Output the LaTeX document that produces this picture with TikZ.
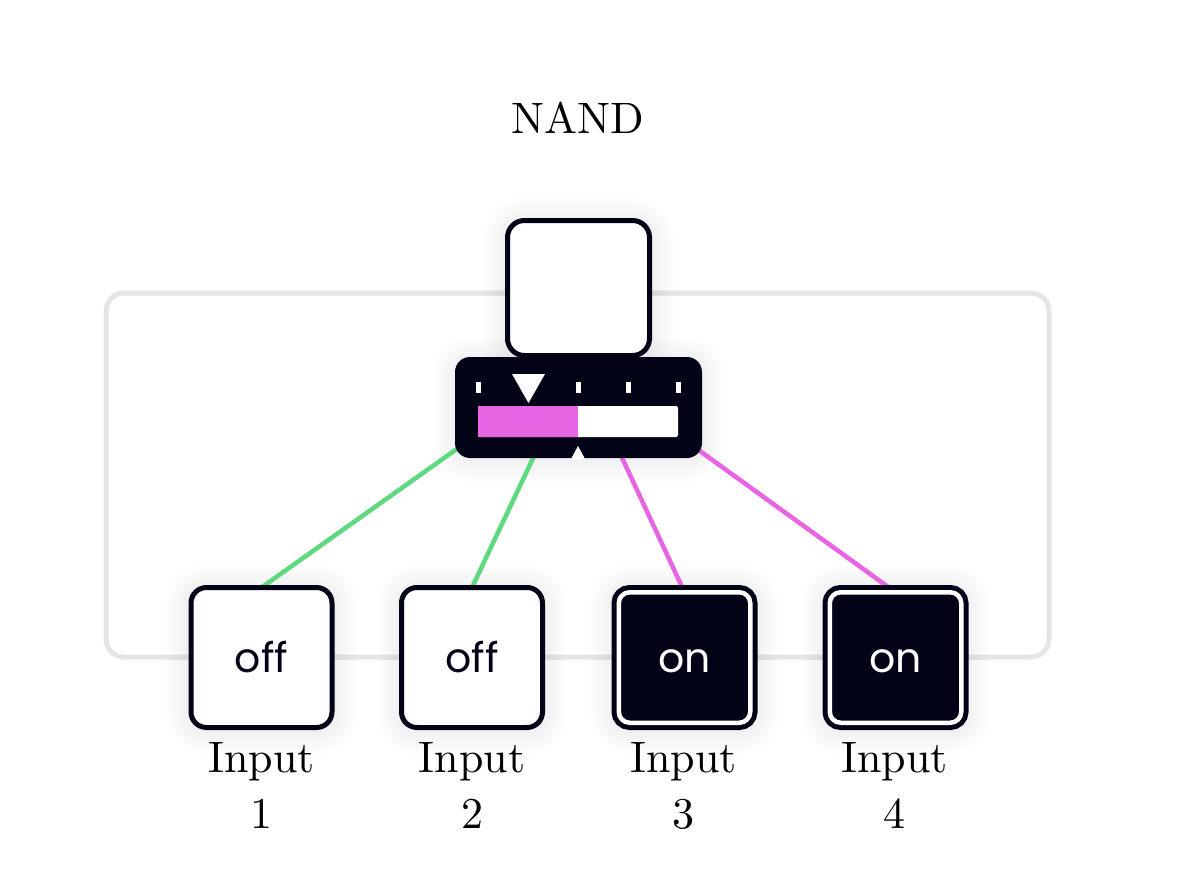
\documentclass[tikz,border=0pt]{standalone}
\usepackage{fontspec}
\setmainfont{lmroman10-regular}[Extension=.otf]
\newfontfamily\popp{Poppins}
\definecolor{ink}{RGB}{3,3,24}
\definecolor{wgreen}{RGB}{94,217,127}
\definecolor{wpink}{RGB}{233,100,227}
\definecolor{framegray}{RGB}{229,229,232}
\pgfdeclarelayer{back}
\pgfdeclarelayer{wires}
\pgfsetlayers{back,wires,main}
\newcommand\myhalo[5]{%
  \foreach \r in {1,...,14}{%
    \fill[black, opacity=0.0055, rounded corners=#5+\r*1.6]
      (#1-\r*1.6,#2-\r*1.6+2) rectangle (#3+\r*1.6,#4+\r*1.6+2);}}
\begin{document}
\begin{tikzpicture}[x=1pt,y=-1pt,
  offbox/.style={draw=ink, line width=5pt, fill=white, rounded corners=15.5pt,
    minimum width=141pt, minimum height=140pt, inner sep=0pt, outer sep=0pt,
    font=\popp\fontsize{41}{42}\selectfont, text=ink, text height=29pt, text depth=0pt},
  onbox/.style={draw=ink, line width=5pt, double=white, double distance=4.5pt, fill=ink,
    rounded corners=11pt, minimum width=131.5pt, minimum height=130.5pt, inner sep=0pt,
    outer sep=0pt,
    font=\popp\fontsize{41}{42}\selectfont, text=white, text height=29pt, text depth=0pt},
  lbl/.style={font=\fontsize{44}{56}\selectfont, text=black, inner sep=0pt, anchor=base},
  wire/.style={line width=4.5pt},
]
\useasboundingbox (0,0) rectangle (1200,875);
\begin{pgfonlayer}{back}
  % background frame
  \draw[framegray, line width=5pt, rounded corners=18pt] (106,293) rectangle (1049,657);
  % soft shadows
  \myhalo{505}{218}{652}{358}{20}
  \myhalo{455}{357}{702}{458}{15}
  \myhalo{188}{585}{335}{730}{18}
  \myhalo{399}{585}{545}{730}{18}
  \myhalo{612}{585}{757}{730}{18}
  \myhalo{823}{585}{968}{730}{18}
\end{pgfonlayer}
% title
\node[lbl] (title) at (577.5,133) {NAND};
% hub behind the gauge
\coordinate (hub) at (578,363);
% inputs
\node[offbox] (in1) at (261.5,657.5) {off};
\node[offbox] (in2) at (472,657.5) {off};
\node[onbox] (in3) at (684.5,657.5) {on};
\node[onbox] (in4) at (895.5,657.5) {on};
% output box
\node[draw=ink, line width=5pt, fill=white, rounded corners=17pt, minimum width=142pt,
  minimum height=135pt, inner sep=0pt, outer sep=0pt] (out) at (578.5,288) {};
% gauge
\node[fill=ink, rounded corners=15pt, minimum width=247pt, minimum height=101pt,
  inner sep=0pt, outer sep=0pt] (gauge) at (578.5,407.5) {};
\fill[white] (571,459) -- (578,446) -- (585,459) -- cycle;
% ticks
\foreach \tx in {478,578,628,678} {\fill[white] (\tx-2.5,382) rectangle (\tx+2.5,393);}
% marker
\fill[white] (512,374) -- (545,374) -- (528.5,403) -- cycle;
% bar
\fill[white, rounded corners=2pt] (478,406) rectangle (678,437);
\fill[wpink] (478,406) rectangle (578,437);
% wires
\begin{pgfonlayer}{wires}
  \draw[wire, wgreen] (hub) -- (in1.north);
  \draw[wire, wgreen] (hub) -- (in2.north);
  \draw[wire, wpink] (hub) -- (in3.north);
  \draw[wire, wpink] (hub) -- (in4.north);
\end{pgfonlayer}
% labels
\node[lbl] (l1a) at (261.5,772) {Input};
\node[lbl] (l1b) at (261.5,828) {1};
\node[lbl] (l2a) at (472,772) {Input};
\node[lbl] (l2b) at (472,828) {2};
\node[lbl] (l3a) at (683.5,772) {Input};
\node[lbl] (l3b) at (683.5,828) {3};
\node[lbl] (l4a) at (894.5,772) {Input};
\node[lbl] (l4b) at (894.5,828) {4};
\end{tikzpicture}
\end{document}
